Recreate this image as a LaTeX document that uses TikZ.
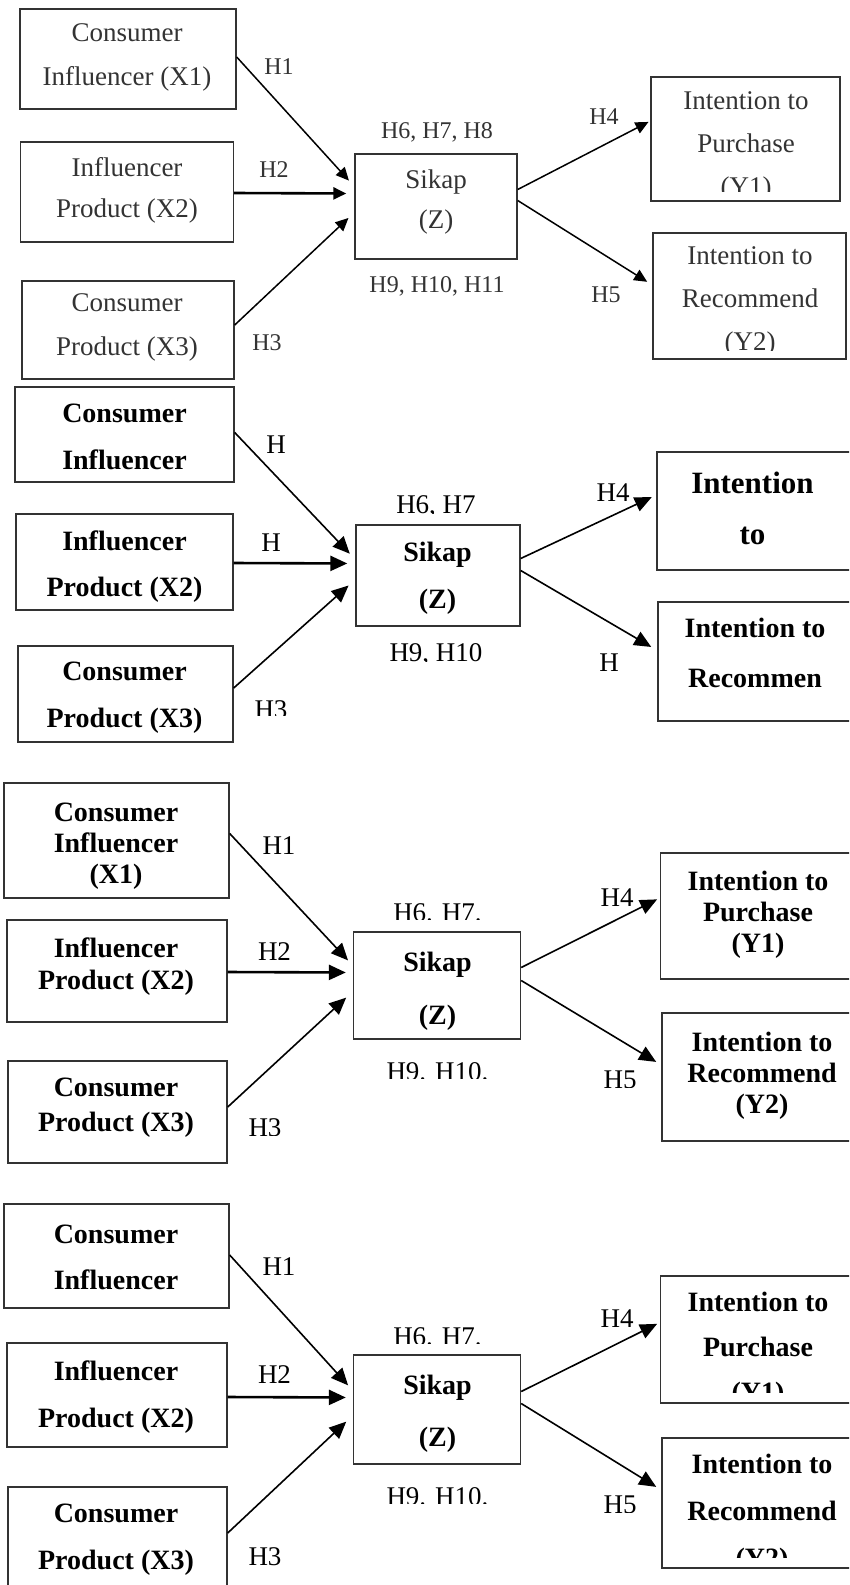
\documentclass[tikz,border=0pt]{standalone}
\usepackage{fontspec}
\setmainfont{Liberation Serif}
\usepackage{tikz}
\usetikzlibrary{arrows.meta}

\begin{document}
\begin{tikzpicture}[
        x=1pt, y=-1pt,
        box/.style={draw=black!80, line width=1.4pt, inner sep=0pt},
        txa/.style={font={\fontsize{27}{#1}\selectfont}, text=black!80, align=center, inner sep=0pt},
        txb/.style={font={\fontsize{28}{#1}\selectfont\bfseries}, align=center, inner sep=0pt},
        hla/.style={font={\fontsize{24}{24}\selectfont}, text=black!80, inner sep=0pt},
        hlb/.style={font={\fontsize{27}{27}\selectfont}, inner sep=0pt},
        arr/.style={-{Triangle[length=13pt,width=12pt]}, line width=1.5pt},
        arrb/.style={-{Triangle[length=17pt,width=15pt]}, line width=1.6pt},
        fat/.style={line width=2.6pt}
    ]
        \useasboundingbox (0,0) rectangle (849,1585);
        \clip (0,0) rectangle (849,1585);

        % first copy
        \node[box, minimum width=216, minimum height=100] (a1) at (128,59) {};
        \node[box, minimum width=213, minimum height=100] (a2) at (127,192) {};
        \node[box, minimum width=212, minimum height=98] (a3) at (128,330) {};
        \node[box, minimum width=162, minimum height=105] (az) at (436,206.5) {};
        \node[box, minimum width=189, minimum height=124] (ay1) at (745.5,139) {};
        \node[box, minimum width=193, minimum height=126] (ay2) at (749.5,296) {};
        \node[txa=44] (a1t) at (127,57) {Consumer\\Influencer (X1)};
        \node[txa=41] (a2t) at (127,190) {Influencer\\Product (X2)};
        \node[txa=44] (a3t) at (127,327) {Consumer\\Product (X3)};
        \node[txa=40] (azt) at (436,202) {Sikap\\(Z)};
        \begin{scope}
            \clip (640,70) rectangle (849,191);
            \node[txa=43] (ay1t) at (746,146) {Intention to\\Purchase\\(Y1)};
        \end{scope}
        \begin{scope}
            \clip (640,225) rectangle (849,350);
            \node[txa=43] (ay2t) at (750,301) {Intention to\\Recommend\\(Y2)};
        \end{scope}
        \node[hla] (ah1) at (279,67) {H1};
        \node[hla] (ah2) at (274,170) {H2};
        \node[hla] (ah3) at (267,343) {H3};
        \node[hla] (ah4) at (604,117) {H4};
        \node[hla] (ah5) at (606,295) {H5};
        \node[hla] (ah6) at (437,132) {H6, H7, H8};
        \node[hla] (ah9) at (437,286) {H9, H10, H11};
        \draw[arr, shorten >=8pt] ([yshift=2pt]a1.east) -- ([yshift=20pt]az.west);
        \draw[arr, fat, shorten >=8pt] ([yshift=-1pt]a2.east) -- ([yshift=13pt]az.west);
        \draw[arr, shorten >=8pt] ([yshift=5pt]a3.east) -- ([yshift=-6pt]az.west);
        \draw[arr, shorten >=2pt] ([yshift=17pt]az.east) -- ([yshift=18pt]ay1.west);
        \draw[arr, shorten >=6pt] ([yshift=6pt]az.east) -- ([yshift=11pt]ay2.west);

        % second copy
        \node[box, minimum width=219, minimum height=95] (b1) at (124.5,434.5) {};
        \node[box, minimum width=217, minimum height=96] (b2) at (124.5,562) {};
        \node[box, minimum width=215, minimum height=96] (b3) at (125.5,694) {};
        \node[box, minimum width=164, minimum height=101] (bz) at (438,575.5) {};
        \node[box, minimum width=220, minimum height=118] (by1) at (767,511) {};
        \node[box, minimum width=220, minimum height=119] (by2) at (768,661.5) {};
        \node[txb=47] (b1t) at (124.5,437) {Consumer\\Influencer};
        \node[txb=46] (b2t) at (124.5,567) {Influencer\\Product (X2)};
        \node[txb=47] (b3t) at (124.5,698) {Consumer\\Product (X3)};
        \node[txb=47] (bzt) at (437.5,578) {Sikap\\(Z)};
        \node[txb=51, font={\fontsize{31}{51}\selectfont\bfseries}] (by1t) at (752.5,508) {Intention\\to};
        \node[txb=50] (by2t) at (755,653) {Intention to\\Recommen};
        \node[hlb] (bh1) at (276,445) {H};
        \node[hlb] (bh2) at (271,543) {H};
        \begin{scope}
            \clip (240,690) rectangle (300,715);
            \node[hlb] (bh3) at (271,710) {H3};
        \end{scope}
        \node[hlb] (bh4) at (613,493) {H4};
        \node[hlb] (bh5) at (609,663) {H};
        \begin{scope}
            \clip (380,490) rectangle (500,513);
            \node[hlb] (bh6) at (436,507) {H6, H7};
        \end{scope}
        \begin{scope}
            \clip (380,638) rectangle (500,661);
            \node[hlb] (bh9) at (436,655) {H9, H10};
        \end{scope}
        \draw[arrb, shorten >=8pt] ([yshift=2pt]b1.east) -- ([yshift=16pt]bz.west);
        \draw[arrb, fat, shorten >=8pt] ([yshift=-1pt]b2.east) -- ([yshift=12pt]bz.west);
        \draw[arrb, shorten >=9pt] ([yshift=6pt]b3.east) -- ([yshift=-4pt]bz.west);
        \draw[arrb, shorten >=5pt] ([yshift=17pt]bz.east) -- ([yshift=16pt]by1.west);
        \draw[arrb, shorten >=7pt] ([yshift=5pt]bz.east) -- ([yshift=11pt]by2.west);

        % third copy
        \node[box, minimum width=225, minimum height=115] (c1) at (116.5,840.5) {};
        \node[box, minimum width=220, minimum height=102] (c2) at (117,971) {};
        \node[box, minimum width=219, minimum height=102] (c3) at (117.5,1112) {};
        \node[box, minimum width=167, minimum height=107] (cz) at (437,985.5) {};
        \node[box, minimum width=220, minimum height=126] (cy1) at (770.5,916) {};
        \node[box, minimum width=220, minimum height=128] (cy2) at (772,1077) {};
        \node[txb=31] (c1t) at (116,846) {Consumer\\Influencer\\(X1)};
        \node[txb=32] (c2t) at (116,967) {Influencer\\Product (X2)};
        \node[txb=35] (c3t) at (116,1108) {Consumer\\Product (X3)};
        \node[txb=53] (czt) at (437.5,991) {Sikap\\(Z)};
        \node[txb=31] (cy1t) at (758,915) {Intention to\\Purchase\\(Y1)};
        \node[txb=31] (cy2t) at (762,1076) {Intention to\\Recommend\\(Y2)};
        \node[hlb] (ch1) at (279,846) {H1};
        \node[hlb] (ch2) at (274.5,952) {H2};
        \begin{scope}
            \clip (240,1110) rectangle (300,1135);
            \node[hlb] (ch3) at (265,1128) {H3};
        \end{scope}
        \node[hlb] (ch4) at (617,898) {H4};
        \begin{scope}
            \clip (590,1062) rectangle (650,1087);
            \node[hlb] (ch5) at (620,1080) {H5};
        \end{scope}
        \begin{scope}
            \clip (380,896) rectangle (500,919);
            \node[hlb] (ch6) at (437.5,913) {H6. H7.};
        \end{scope}
        \begin{scope}
            \clip (380,1055) rectangle (500,1078);
            \node[hlb] (ch9) at (437.5,1072) {H9. H10.};
        \end{scope}
        \draw[arrb, shorten >=7pt] ([yshift=7pt]c1.east) -- ([yshift=20pt]cz.west);
        \draw[arrb, fat, shorten >=7pt] ([yshift=-1pt]c2.east) -- ([yshift=13pt]cz.west);
        \draw[arrb, shorten >=9pt] ([yshift=5pt]c3.east) -- ([yshift=-6pt]cz.west);
        \draw[arrb, shorten >=3pt] ([yshift=18pt]cz.east) -- ([yshift=18pt]cy1.west);
        \draw[arrb, shorten >=6pt] ([yshift=5pt]cz.east) -- ([yshift=12pt]cy2.west);

        % fourth copy
        \node[box, minimum width=225, minimum height=104] (d1) at (116.5,1256) {};
        \node[box, minimum width=220, minimum height=104] (d2) at (117,1395) {};
        \node[box, minimum width=219, minimum height=120] (d3) at (117.5,1547) {};
        \node[box, minimum width=167, minimum height=109] (dz) at (437,1409.5) {};
        \node[box, minimum width=220, minimum height=127] (dy1) at (770.5,1339.5) {};
        \node[box, minimum width=220, minimum height=130] (dy2) at (772,1503) {};
        \node[txb=46] (d1t) at (116,1257) {Consumer\\Influencer};
        \node[txb=47] (d2t) at (116,1397) {Influencer\\Product (X2)};
        \node[txb=47] (d3t) at (116,1540) {Consumer\\Product (X3)};
        \node[txb=52] (dzt) at (437.5,1414) {Sikap\\(Z)};
        \begin{scope}
            \clip (665,1280) rectangle (849,1392);
            \node[txb=45] (dy1t) at (758,1350) {Intention to\\Purchase\\(Y1)};
        \end{scope}
        \begin{scope}
            \clip (665,1442) rectangle (849,1557);
            \node[txb=47] (dy2t) at (762,1514) {Intention to\\Recommend\\(Y2)};
        \end{scope}
        \node[hlb] (dh1) at (279,1267) {H1};
        \node[hlb] (dh2) at (274.5,1375) {H2};
        \node[hlb] (dh3) at (265,1557) {H3};
        \node[hlb] (dh4) at (617,1319) {H4};
        \begin{scope}
            \clip (590,1487) rectangle (650,1512);
            \node[hlb] (dh5) at (620,1505) {H5};
        \end{scope}
        \begin{scope}
            \clip (380,1320) rectangle (500,1343);
            \node[hlb] (dh6) at (437.5,1337) {H6. H7.};
        \end{scope}
        \begin{scope}
            \clip (380,1480) rectangle (500,1503);
            \node[hlb] (dh9) at (437.5,1497) {H9. H10.};
        \end{scope}
        \draw[arrb, shorten >=7pt] ([yshift=1pt]d1.east) -- ([yshift=19pt]dz.west);
        \draw[arrb, fat, shorten >=7pt] ([yshift=-2pt]d2.east) -- ([yshift=12pt]dz.west);
        \draw[arrb, shorten >=9pt] ([yshift=14pt]d3.east) -- ([yshift=-6pt]dz.west);
        \draw[arrb, shorten >=3pt] ([yshift=18pt]dz.east) -- ([yshift=17pt]dy1.west);
        \draw[arrb, shorten >=6pt] ([yshift=6pt]dz.east) -- ([yshift=13pt]dy2.west);
    \end{tikzpicture}
\end{document}
